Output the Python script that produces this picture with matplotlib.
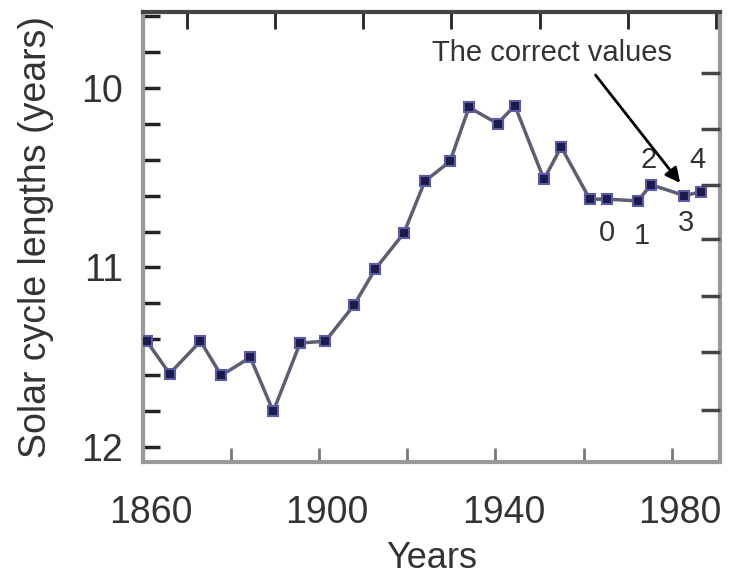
import numpy as np
import matplotlib.pyplot as plt
from matplotlib.ticker import MultipleLocator
import matplotlib.transforms as mtransforms

plt.rcParams['font.family'] = ['Liberation Sans', 'DejaVu Sans']

# filtered solar cycle lengths
years = [1860.9, 1866.1, 1873.1, 1877.8, 1884.4, 1889.6, 1895.7, 1901.4,
         1907.9, 1912.7, 1919.2, 1924.0, 1929.7, 1934.0, 1940.5, 1944.4,
         1951.0, 1954.9, 1961.4, 1965.3, 1972.3, 1975.3, 1982.8, 1986.7]
lengths = [11.41, 11.59, 11.41, 11.60, 11.50, 11.80, 11.42, 11.41,
           11.21, 11.01, 10.81, 10.52, 10.41, 10.11, 10.20, 10.10,
           10.51, 10.33, 10.62, 10.62, 10.63, 10.54, 10.60, 10.58]

# the last five points carry a number label
point_labels = ["0", "1", "2", "3", "4"]
label_offsets = [(0, -34), (4, -35), (-2, 25), (2, -27), (-4, 32)]  # pixels

right_ticks = [9.92, 10.23, 10.54, 10.84, 11.16, 11.47, 11.79]

fig = plt.figure(figsize=(7.32, 5.75), dpi=100)
ax = fig.add_axes([0.195, 0.197, 0.789, 0.782])

ax.plot(years, lengths, color='#5e5e72', lw=2.5, zorder=2)
ax.plot(years, lengths, ls='none', marker='s', ms=7, mfc='#1c1c4a',
        mec='#5a5aa8', mew=1.5, zorder=3)

for lab, (dx, dy), x, y in zip(point_labels, label_offsets, years[-5:], lengths[-5:]):
    ax.annotate(lab, xy=(x, y), xytext=(dx, dy), textcoords='offset pixels',
                ha='center', va='center', fontsize=21, color='#333333')

ax.text(1952.8, 9.81, "The correct values", ha='center', va='center',
        fontsize=21, color='#333333')
ax.annotate('', xy=(1981.9, 10.53), xytext=(1962.7, 9.93),
            arrowprops=dict(arrowstyle='-|>', color='black', lw=2,
                            mutation_scale=22, shrinkA=0, shrinkB=0))

ax.set_xlim(1860, 1991)
ax.set_ylim(12.08, 9.58)

ax.set_xticks([1860, 1880, 1900, 1920, 1940, 1960, 1980])
ax.set_xticklabels(['1860', '', '1900', '', '1940', '', '1980'])
ax.xaxis.set_minor_locator(MultipleLocator(10))
ax.set_yticks([10, 11, 12])
ax.yaxis.set_minor_locator(MultipleLocator(0.2))

ax.tick_params(axis='x', which='major', direction='in', length=10, width=2,
               color='#777777', labelsize=27, labelcolor='#333333', pad=24,
               top=False)
ax.tick_params(axis='x', which='minor', direction='in', length=12, width=2,
               color='#222222', bottom=False, top=True)
ax.tick_params(axis='y', which='both', direction='in', length=12, width=2.5,
               color='#222222', labelsize=27, labelcolor='#333333', pad=14,
               right=False)

# year labels sit a few pixels right of their ticks
shift = mtransforms.ScaledTranslation(0.08, 0, fig.dpi_scale_trans)
for lbl in ax.get_xticklabels():
    lbl.set_transform(lbl.get_transform() + shift)

for side in ['left', 'bottom', 'right']:
    ax.spines[side].set_color('#999999')
    ax.spines[side].set_linewidth(3)
ax.spines['top'].set_color('#444444')
ax.spines['top'].set_linewidth(3)

axr = ax.twinx()
axr.set_ylim(ax.get_ylim())
axr.set_yticks(right_ticks)
axr.set_yticklabels([])
axr.tick_params(axis='y', direction='in', length=14, width=2.5, color='#444444')
axr.spines[:].set_visible(False)

ax.set_xlabel("Years", fontsize=26, color='#333333', labelpad=7)
ax.set_ylabel("Solar cycle lengths (years)", fontsize=27, color='#333333',
              labelpad=20)

fig.savefig("out.png", dpi=100)
